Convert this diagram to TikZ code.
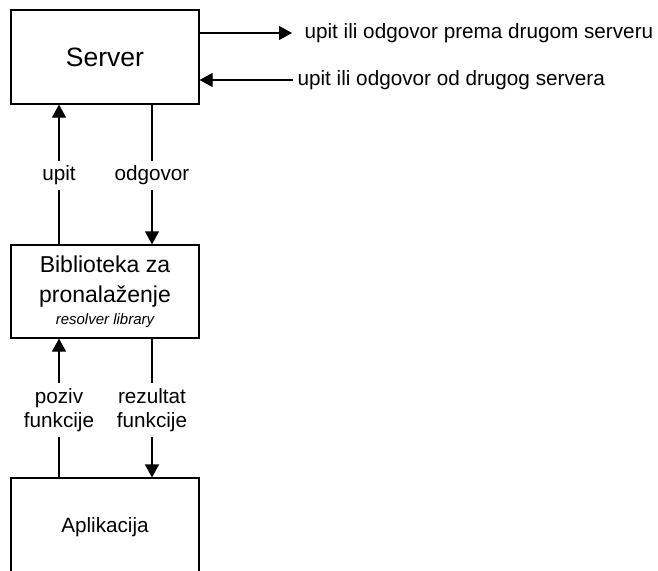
\documentclass[tikz,border=0pt]{standalone}
\usepackage{fontspec}
\setmainfont{Liberation Sans}
\usetikzlibrary{arrows.meta}
\begin{document}
\begin{tikzpicture}[x=1pt,y=-1pt, line width=1.2pt,
  box/.style={draw, minimum width=188pt, inner sep=0pt, align=center},
  arr/.style={-{Triangle[length=13pt,width=14pt]}},
  lbl/.style={fill=white, inner xsep=2pt, inner ysep=5pt, align=center, font=\fontsize{20.7}{24}\selectfont},
  side/.style={anchor=west, inner sep=0pt, font=\fontsize{20.7}{24}\selectfont}]
  \useasboundingbox (0,0) rectangle (658,570);
  \clip (0,0) rectangle (658,570);

  % the three layers
  \node[box, minimum height=94pt, font=\fontsize{26.5}{30}\selectfont] (srv) at (105,57) {Server};
  \node[box, minimum height=93pt, font=\fontsize{23}{30}\selectfont] (lib) at (105,291.5)
    {Biblioteka za\\pronalaženje\\[-8pt]{\fontsize{15}{18}\selectfont\itshape resolver library}};
  \node[box, minimum height=98pt, font=\fontsize{20.7}{24}\selectfont] (app) at (105,527) {Aplikacija};

  % columns of the vertical connectors
  \coordinate (xl) at (59,0);
  \coordinate (xr) at (152,0);

  \draw[arr] (lib.north -| xl) -- node[lbl, yshift=-1pt] {upit} (srv.south -| xl);
  \draw[arr] (srv.south -| xr) -- node[lbl, yshift=-1pt] {odgovor} (lib.north -| xr);
  \draw[arr] (app.north -| xl) -- node[lbl, yshift=-2pt] {poziv\\funkcije} (lib.south -| xl);
  \draw[arr] (lib.south -| xr) -- node[lbl, yshift=-2pt] {rezultat\\funkcije} (app.north -| xr);

  % traffic with other servers
  \coordinate (o1) at (292,33);
  \coordinate (o2) at (293,80);
  \draw[arr] (srv.east |- o1) -- (o1);
  \draw[arr] (o2) -- (srv.east |- o2);
  \node[side] (t1) at (304,33) {upit ili odgovor prema drugom serveru};
  \node[side] (t2) at (297,80) {upit ili odgovor od drugog servera};
\end{tikzpicture}
\end{document}
